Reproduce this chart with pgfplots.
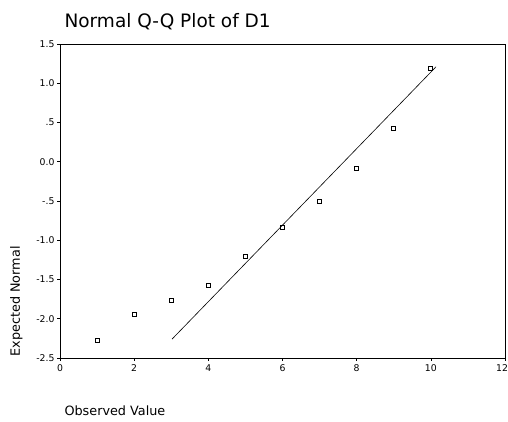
\documentclass[border=0pt]{standalone}
\usepackage{fontspec}
\setmainfont{DejaVu Sans}
\usepackage{pgfplots}
\pgfplotsset{compat=1.18}
\begin{document}
\begin{tikzpicture}
\begin{axis}[name=ax,
  scale only axis, width=445pt, height=314pt,
  xmin=0, xmax=12, ymin=-2.5, ymax=1.5,
  xtick={0,2,4,6,8,10}, xticklabels={0,2,4,6,8,10},
  extra x ticks={12}, extra x tick labels={12},
  extra x tick style={xticklabel style={xshift=-3pt}},
  ytick={-2.5,-2,-1.5,-1,-0.5,0,0.5,1,1.5},
  yticklabels={-2.5,-2.0,-1.5,-1.0,-.5,0.0,.5,1.0,1.5},
  tick align=outside, tick pos=left, major tick length=3pt,
  ticklabel style={font=\fontsize{9.3}{11}\selectfont},
  yticklabel style={xshift=1pt},
  axis line style={line width=0.9pt},
  every tick/.style={black, line width=0.6pt},
  clip=false]
\addplot[black, line width=0.6pt] coordinates {(3.02,-2.26) (10.14,1.21)};
\addplot[only marks, mark=square, mark size=2pt, mark options={line width=0.7pt}] coordinates {
(1,-2.28) (2,-1.94) (3,-1.76) (4,-1.58) (5,-1.21) (6,-0.83) (7,-0.51) (8,-0.08) (9,0.43) (10,1.19)};
\end{axis}
\node[anchor=base west, font=\fontsize{18.5}{22}\selectfont] at ([xshift=1pt,yshift=16pt]ax.north west) {Normal Q-Q Plot of D1};
\node[anchor=base west, font=\fontsize{12.8}{15}\selectfont] at ([xshift=1pt,yshift=-57pt]ax.south west) {Observed Value};
\node[anchor=base west, rotate=90, font=\fontsize{12.8}{15}\selectfont] at ([xshift=-40pt,yshift=-2pt]ax.south west) {Expected Normal};
\pgfresetboundingbox
\path ([xshift=-60pt,yshift=-64pt]ax.south west) rectangle ++(508pt,422pt);
\end{tikzpicture}
\end{document}
